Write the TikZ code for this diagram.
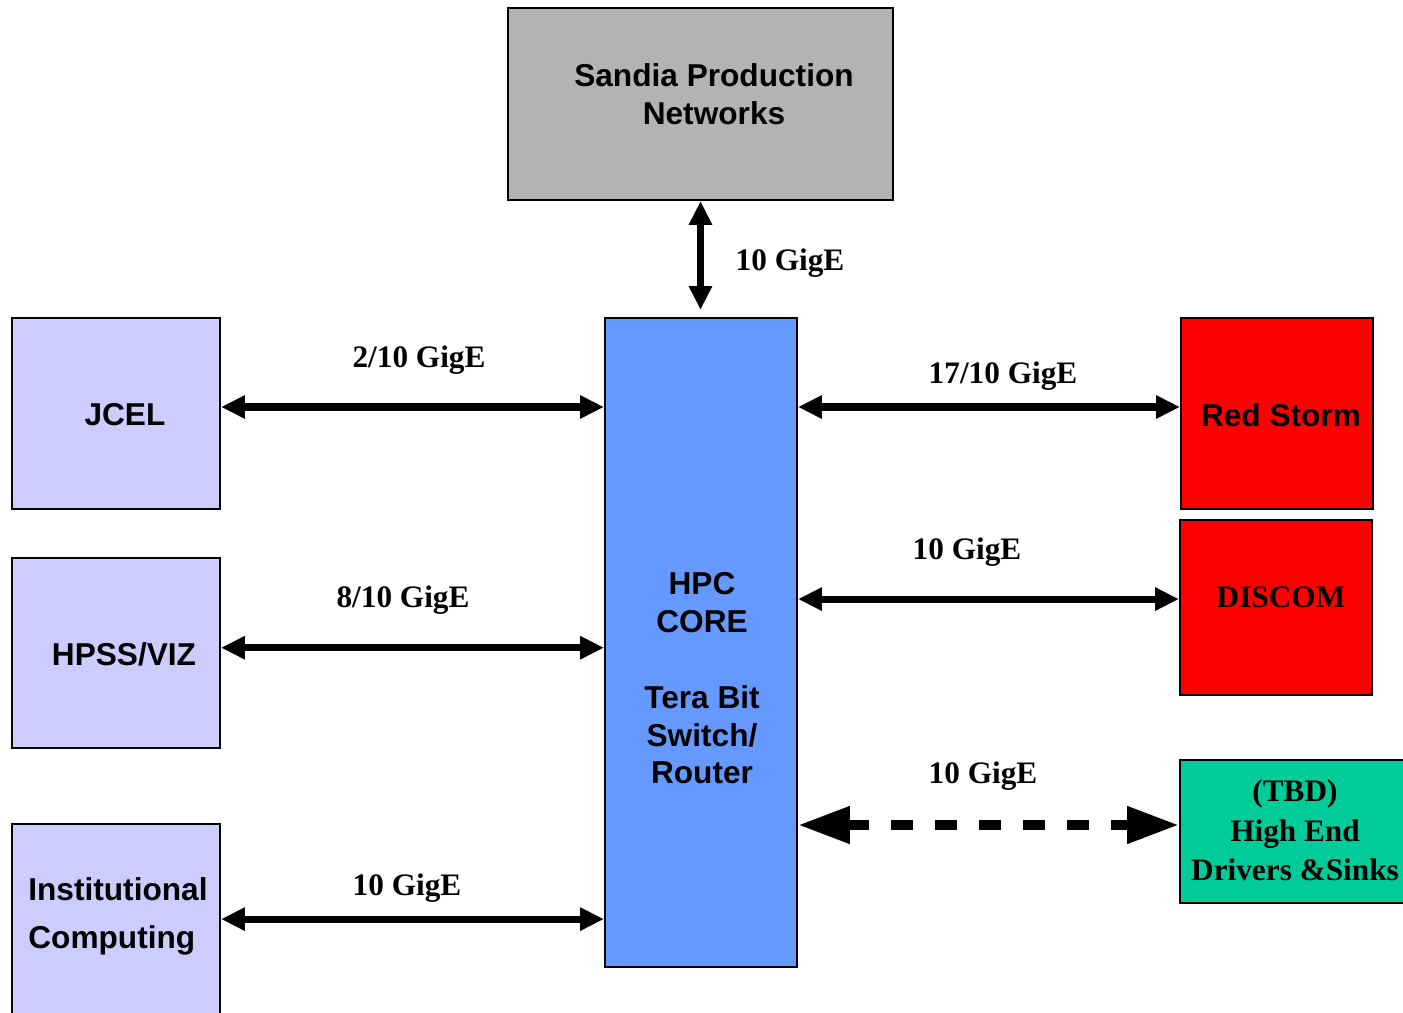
\documentclass[tikz,border=0pt]{standalone}
\usepackage{fontspec}
\setmainfont{Liberation Serif}
\setsansfont{Liberation Sans}
\usetikzlibrary{arrows.meta}

\definecolor{prodgray}{HTML}{B3B3B3}
\definecolor{sitelav}{HTML}{CCCCFF}
\definecolor{coreblue}{HTML}{6699FF}
\definecolor{stormred}{HTML}{FF0000}
\definecolor{tbdgreen}{HTML}{00CC99}

\tikzset{
  box/.style={draw=black, line width=1.2pt, inner sep=0pt},
  boxdim/.style 2 args={minimum width=#1*0.02cm, minimum height=#2*0.02cm},
  sanstxt/.style={font=\sffamily\bfseries\fontsize{18}{21.5}\selectfont, align=center},
  seriftxt/.style={font=\rmfamily\bfseries\fontsize{17.8}{22.5}\selectfont, align=center},
  link/.style={line width=4pt, {Triangle[length=13.6pt,width=12.5pt]}-{Triangle[length=13.6pt,width=12.5pt]}},
  tbdlink/.style={line width=5.7pt, dash pattern=on 12.5pt off 12.5pt,
    {Triangle[length=29.5pt,width=20pt]}-{Triangle[length=29.5pt,width=20pt]}},
}

\begin{document}
\begin{tikzpicture}[x=0.02cm, y=-0.02cm]
    % cadre : 1403 x 1013 (unite = un pixel)
    \useasboundingbox (0,0) rectangle (1403,1013);
    \clip (0,0) rectangle (1403,1013);

    % les boites
    \node[box, fill=prodgray, boxdim={385}{192}] (sandia) at (700.5,104) {};
    \node[box, fill=sitelav, boxdim={208}{191}] (jcel) at (116,413.5) {};
    \node[box, fill=sitelav, boxdim={208}{190}] (hpss) at (116,653) {};
    \node[box, fill=sitelav, boxdim={208}{206}] (inst) at (116,927) {};
    \node[box, fill=coreblue, boxdim={192}{649}] (core) at (701,642.5) {};
    \node[box, fill=stormred, boxdim={192}{191}] (storm) at (1277,413.5) {};
    \node[box, fill=stormred, boxdim={192}{175}] (discom) at (1276,607.5) {};
    \node[box, fill=tbdgreen, boxdim={240}{143}] (tbd) at (1300,831.5) {};

    % textes des boites
    \node[sanstxt] (sandia-txt) at (714,94.5) {Sandia Production\\Networks};
    \node[sanstxt] (jcel-txt) at (125,415) {JCEL};
    \node[sanstxt] (hpss-txt) at (124,654) {HPSS/VIZ};
    \node[sanstxt, align=left, anchor=west, inner sep=0pt, font=\sffamily\bfseries\fontsize{18}{27.2}\selectfont]
      (inst-txt) at (28,916) {Institutional\\Computing};
    \node[sanstxt] (core-txt) at (702,678.5) {HPC\\CORE\\[21.5pt]Tera Bit\\Switch/\\Router};
    \node[sanstxt] (storm-txt) at (1281,415) {Red Storm};
    \node[seriftxt] (discom-txt) at (1281,597) {DISCOM};
    \node[seriftxt] (tbd-txt) at (1295,830.5) {(TBD)\\High End\\Drivers \&Sinks};

    % liaisons
    \draw[link, shorten >=4pt] (sandia.south) -- (sandia.south |- core.north);
    \draw[link] ([yshift=3.7pt]jcel.east) -- ([yshift=3.7pt]jcel.east -| core.west);
    \draw[link] ([yshift=3pt]hpss.east) -- ([yshift=3pt]hpss.east -| core.west);
    \draw[link] ([yshift=4.5pt]inst.east) -- ([yshift=4.5pt]inst.east -| core.west);
    \draw[link] ([yshift=3.7pt]storm.west -| core.east) -- ([yshift=3.7pt]storm.west);
    \draw[link] ([yshift=4.8pt]discom.west -| core.east) -- ([yshift=4.8pt]discom.west);
    \draw[tbdlink] ([yshift=3.7pt]tbd.west -| core.east) -- ([yshift=3.7pt]tbd.west);

    % debits
    \node[seriftxt] (l-sandia) at (790,263) {10 GigE};
    \node[seriftxt] (l-jcel) at (419,360) {2/10 GigE};
    \node[seriftxt] (l-hpss) at (403,600) {8/10 GigE};
    \node[seriftxt] (l-inst) at (407,888) {10 GigE};
    \node[seriftxt] (l-storm) at (1003,376) {17/10 GigE};
    \node[seriftxt] (l-discom) at (967,552) {10 GigE};
    \node[seriftxt] (l-tbd) at (983,776) {10 GigE};
\end{tikzpicture}
\end{document}
